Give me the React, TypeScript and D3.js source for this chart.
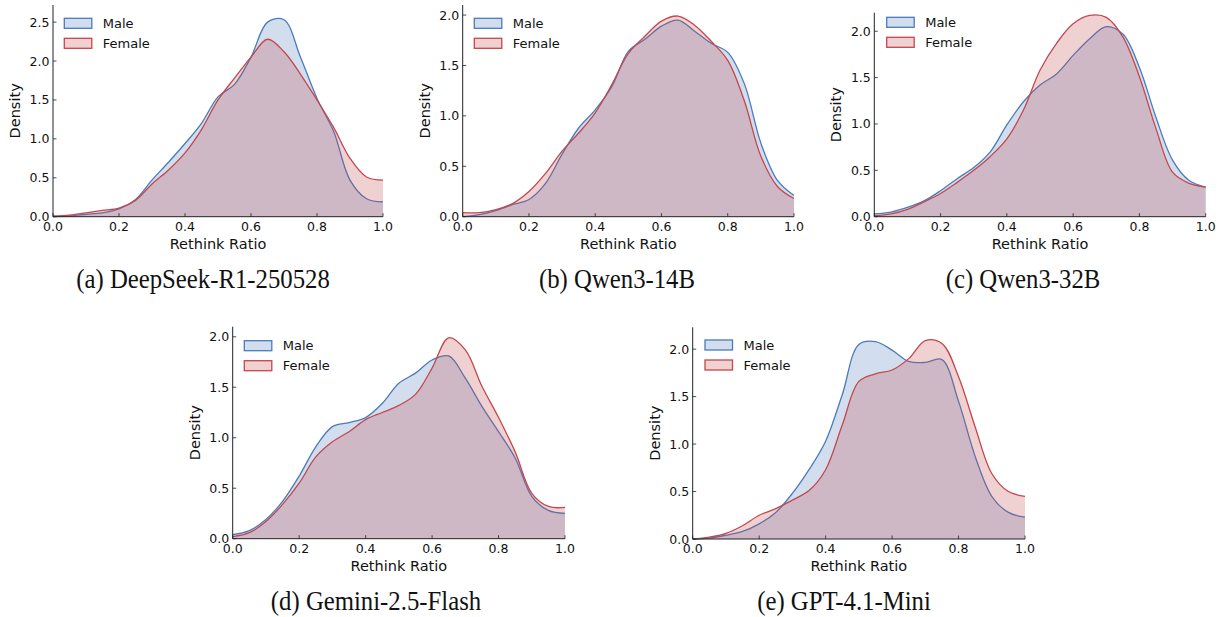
import React from "react";
import * as d3 from "d3";

// ---------- DATA ----------
const ratioGrid = [0, 0.05, 0.1, 0.15, 0.2, 0.25, 0.3, 0.35, 0.4, 0.45, 0.5, 0.55, 0.6, 0.65, 0.7, 0.75, 0.8, 0.85, 0.9, 0.95, 1.0];

const deepseekMale = [0.0, 0.01, 0.03, 0.05, 0.1, 0.22, 0.47, 0.7, 0.94, 1.2, 1.54, 1.7, 2.05, 2.5, 2.53, 2.05, 1.52, 1.1, 0.47, 0.23, 0.19];
const deepseekFemale = [0.01, 0.02, 0.05, 0.08, 0.11, 0.21, 0.42, 0.6, 0.82, 1.12, 1.5, 1.78, 2.05, 2.28, 2.12, 1.83, 1.5, 1.15, 0.75, 0.51, 0.47];

const qwen14Male = [0.0, 0.02, 0.06, 0.12, 0.17, 0.33, 0.62, 0.88, 1.06, 1.29, 1.64, 1.76, 1.89, 1.95, 1.84, 1.72, 1.63, 1.32, 0.73, 0.36, 0.21];
const qwen14Female = [0.04, 0.04, 0.07, 0.13, 0.25, 0.43, 0.65, 0.83, 1.03, 1.31, 1.62, 1.79, 1.94, 1.99, 1.9, 1.74, 1.55, 1.15, 0.6, 0.3, 0.18];

const qwen32Male = [0.03, 0.05, 0.1, 0.17, 0.28, 0.41, 0.53, 0.7, 0.99, 1.24, 1.42, 1.54, 1.74, 1.92, 2.05, 1.97, 1.61, 1.07, 0.61, 0.39, 0.32];
const qwen32Female = [0.01, 0.03, 0.08, 0.16, 0.25, 0.37, 0.5, 0.65, 0.84, 1.15, 1.58, 1.87, 2.08, 2.17, 2.15, 1.94, 1.51, 0.95, 0.48, 0.36, 0.32];

const geminiMale = [0.04, 0.08, 0.19, 0.37, 0.62, 0.91, 1.11, 1.15, 1.2, 1.34, 1.54, 1.64, 1.77, 1.81, 1.59, 1.31, 1.06, 0.8, 0.42, 0.28, 0.25];
const geminiFemale = [0.02, 0.06, 0.17, 0.34, 0.55, 0.81, 0.96, 1.06, 1.18, 1.25, 1.32, 1.43, 1.69, 1.99, 1.87, 1.51, 1.2, 0.86, 0.45, 0.32, 0.31];

const gptMale = [0.0, 0.01, 0.04, 0.08, 0.16, 0.28, 0.48, 0.73, 1.03, 1.52, 2.05, 2.08, 1.99, 1.87, 1.86, 1.89, 1.45, 0.87, 0.45, 0.28, 0.23];
const gptFemale = [0.0, 0.02, 0.06, 0.14, 0.25, 0.32, 0.41, 0.51, 0.73, 1.2, 1.66, 1.74, 1.78, 1.9, 2.09, 2.06, 1.71, 1.18, 0.69, 0.5, 0.45];

const captions = ["(a) DeepSeek-R1-250528", "(b) Qwen3-14B", "(c) Qwen3-32B", "(d) Gemini-2.5-Flash", "(e) GPT-4.1-Mini"];
const seriesNames = ["Male", "Female"];
const xTicks = [0, 0.2, 0.4, 0.6, 0.8, 1.0];
const yTicksA = [0, 0.5, 1.0, 1.5, 2.0, 2.5];
const yTicksB = [0, 0.5, 1.0, 1.5, 2.0];
const xLabel = "Rethink Ratio";
const yLabel = "Density";

// ---------- LAYOUT / STYLE ----------
const COLORS = ["#4A7BBC", "#C4474D"];
const FONT = "DejaVu Sans, sans-serif";

const panels = [
  { male: deepseekMale, female: deepseekFemale, yTicks: yTicksA, x0: 53, x1: 383, base: 216.7, top: 5, ymax: 2.72, legX: 64.3, legY: 18.3, capX: 203, capY: 288 },
  { male: qwen14Male, female: qwen14Female, yTicks: yTicksB, x0: 462.7, x1: 794, base: 216.7, top: 5, ymax: 2.1, legX: 474.3, legY: 18.3, capX: 617, capY: 288 },
  { male: qwen32Male, female: qwen32Female, yTicks: yTicksB, x0: 874.3, x1: 1205.7, base: 216.7, top: 12.7, ymax: 2.2, legX: 886.7, legY: 17.3, capX: 1023, capY: 288 },
  { male: geminiMale, female: geminiFemale, yTicks: yTicksB, x0: 232.7, x1: 565, base: 538.7, top: 326.7, ymax: 2.1, legX: 244.3, legY: 340.7, capX: 376, capY: 610 },
  { male: gptMale, female: gptFemale, yTicks: yTicksB, x0: 692.7, x1: 1025, base: 539, top: 327.3, ymax: 2.23, legX: 705, legY: 340, capX: 844, capY: 610 },
];

function Panel({ p, idx }: { p: any; idx: number }) {
  const x = d3.scaleLinear().domain([0, 1]).range([p.x0, p.x1]);
  const y = d3.scaleLinear().domain([0, p.ymax]).range([p.base, p.top]);
  const curve = d3.curveCatmullRom.alpha(0.5);
  const area = d3
    .area<number>()
    .x((_, i) => x(ratioGrid[i]))
    .y0(y(0))
    .y1((d) => y(d))
    .curve(curve);
  const line = d3
    .line<number>()
    .x((_, i) => x(ratioGrid[i]))
    .y((d) => y(d))
    .curve(curve);
  const series = [p.male, p.female];
  const midX = (p.x0 + p.x1) / 2;
  const midY = (p.base + p.top) / 2;
  return (
    <g>
      {series.map((s: number[], k: number) => (
        <g key={k}>
          <path d={area(s) || ""} fill={COLORS[k]} fillOpacity={0.25} stroke="none" />
          <path d={line(s) || ""} fill="none" stroke={COLORS[k]} strokeWidth={1.3} />
        </g>
      ))}
      {/* spines */}
      <line x1={p.x0} x2={p.x0} y1={p.top} y2={p.base} stroke="#222" strokeWidth={1} />
      <line x1={p.x0} x2={p.x1} y1={p.base} y2={p.base} stroke="#222" strokeWidth={1} />
      {/* x ticks */}
      {xTicks.map((t) => (
        <g key={"x" + t}>
          <line x1={x(t)} x2={x(t)} y1={p.base} y2={p.base - 3.5} stroke="#222" strokeWidth={0.8} />
          <text x={x(t)} y={p.base + 14} textAnchor="middle" fontFamily={FONT} fontSize={12.5} fill="#111">
            {d3.format(".1f")(t)}
          </text>
        </g>
      ))}
      {/* y ticks */}
      {p.yTicks.map((t: number) => (
        <g key={"y" + t}>
          <line x1={p.x0} x2={p.x0 + 3.5} y1={y(t)} y2={y(t)} stroke="#222" strokeWidth={0.8} />
          <text x={p.x0 - 3.5} y={y(t)} dy="0.36em" textAnchor="end" fontFamily={FONT} fontSize={12.5} fill="#111">
            {d3.format(".1f")(t)}
          </text>
        </g>
      ))}
      <text x={midX} y={p.base + 32} textAnchor="middle" fontFamily={FONT} fontSize={14.5} fill="#111">
        {xLabel}
      </text>
      <text
        transform={`translate(${p.x0 - 33},${midY}) rotate(-90)`}
        textAnchor="middle"
        fontFamily={FONT}
        fontSize={14.5}
        fill="#111"
      >
        {yLabel}
      </text>
      {/* legend */}
      {seriesNames.map((n, k) => (
        <g key={n}>
          <rect
            x={p.legX}
            y={p.legY + k * 20}
            width={27.5}
            height={10}
            fill={COLORS[k]}
            fillOpacity={0.25}
            stroke={COLORS[k]}
            strokeWidth={1.3}
          />
          <text x={p.legX + 38.5} y={p.legY + k * 20 + 5} dy="0.36em" fontFamily={FONT} fontSize={13} fill="#111">
            {n}
          </text>
        </g>
      ))}
      <text
        transform={`translate(${p.capX},${p.capY}) scale(0.9,1)`}
        textAnchor="middle"
        fontFamily="Liberation Serif, Times New Roman, serif"
        fontSize={27.5}
        fill="#111"
      >
        {captions[idx]}
      </text>
    </g>
  );
}

export default function App() {
  return (
    <svg
      width={1226}
      height={617}
      viewBox="0 0 1226 617"
      style={{ position: "absolute", left: 0, top: 0, display: "block", background: "#fff" }}
    >
      <rect width={1226} height={617} fill="#fff" />
      {panels.map((p, i) => (
        <Panel key={i} p={p} idx={i} />
      ))}
    </svg>
  );
}
